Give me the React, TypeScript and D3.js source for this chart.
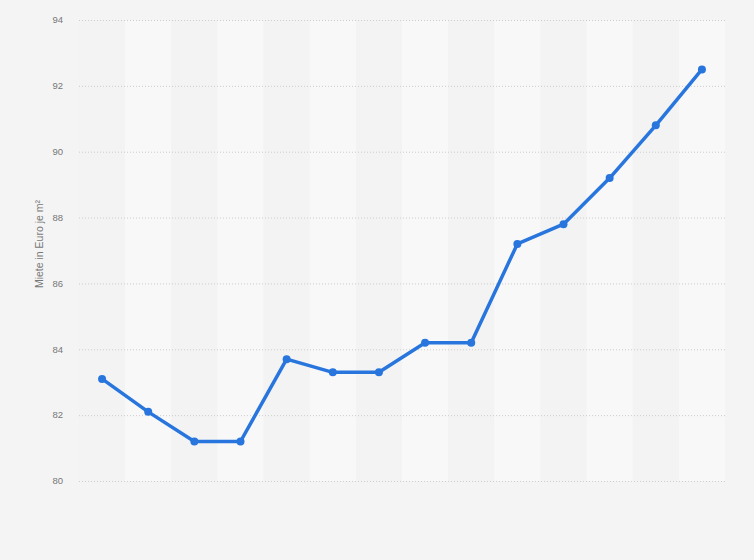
import React, { useEffect, useRef } from "react";
import * as d3 from "d3";

const years = ["1", "2", "3", "4", "5", "6", "7", "8", "9", "10", "11", "12", "13", "14"];
const rents = [83.1, 82.1, 81.2, 81.2, 83.7, 83.3, 83.3, 84.2, 84.2, 87.2, 87.8, 89.2, 90.8, 92.5];
const yTicks = [80, 82, 84, 86, 88, 90, 92, 94];

const width = 754;
const height = 560;
const margin = { top: 20, right: 29, bottom: 79, left: 79 };

export default function App() {
  const ref = useRef<SVGSVGElement>(null);

  useEffect(() => {
    document.body.style.margin = "0";
    const svg = d3.select(ref.current);
    svg.selectAll("*").remove();

    const x = d3.scaleBand()
      .domain(years)
      .range([margin.left, width - margin.right]);

    const y = d3.scaleLinear()
      .domain([80, 94])
      .range([height - margin.bottom, margin.top]);

    svg.append("rect")
      .attr("width", width)
      .attr("height", height)
      .attr("fill", "#f4f4f4");

    // alternating column bands
    svg.append("g")
      .selectAll("rect")
      .data(years)
      .enter().append("rect")
        .attr("x", d => x(d)!)
        .attr("y", y(94))
        .attr("width", x.bandwidth())
        .attr("height", y(80) - y(94))
        .attr("fill", (d, i) => i % 2 === 1 ? "#f8f8f8" : "#f3f3f3");

    const grid = svg.append("g");
    grid.selectAll("line")
      .data(yTicks)
      .enter().append("line")
        .attr("x1", margin.left)
        .attr("x2", width - margin.right)
        .attr("y1", d => y(d) + 0.5)
        .attr("y2", d => y(d) + 0.5)
        .attr("stroke", "#cccccc")
        .attr("stroke-dasharray", "1,2");

    grid.selectAll("text")
      .data(yTicks)
      .enter().append("text")
        .attr("x", 63)
        .attr("y", d => y(d))
        .attr("dy", "0.35em")
        .attr("text-anchor", "end")
        .attr("font-family", "'Liberation Sans', Arial, sans-serif")
        .attr("font-size", 9.5)
        .attr("fill", "#777")
        .text(d => d);

    svg.append("text")
      .attr("transform", `translate(43,244) rotate(-90)`)
      .attr("text-anchor", "middle")
      .attr("font-family", "'Liberation Sans', Arial, sans-serif")
      .attr("font-size", 10.5)
      .attr("fill", "#777")
      .text("Miete in Euro je m²");

    const cx = (d: string) => x(d)! + x.bandwidth() / 2;

    const line = d3.line<number>()
      .x((d, i) => cx(years[i]))
      .y(d => y(d));

    svg.append("path")
      .datum(rents)
      .attr("d", line)
      .attr("fill", "none")
      .attr("stroke", "#2876dd")
      .attr("stroke-width", 3.5)
      .attr("stroke-linejoin", "round");

    svg.append("g")
      .selectAll("circle")
      .data(rents)
      .enter().append("circle")
        .attr("cx", (d, i) => cx(years[i]))
        .attr("cy", d => y(d))
        .attr("r", 4)
        .attr("fill", "#2876dd");
  }, []);

  return (
    <svg ref={ref} width={width} height={height} style={{ display: "block", position: "absolute", left: 0, top: 0 }} />
  );
}
